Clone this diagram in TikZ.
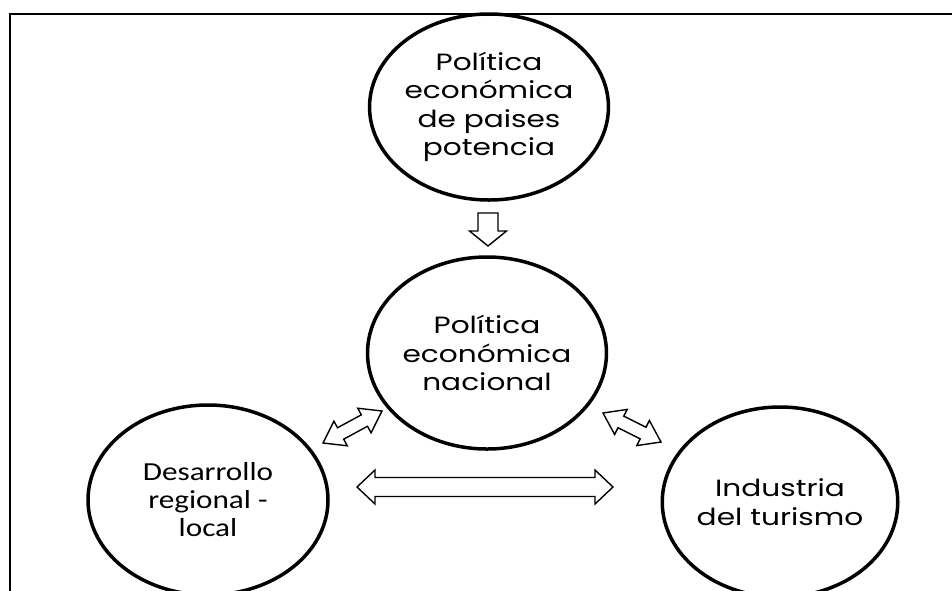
\documentclass[tikz,border=0pt]{standalone}
\usepackage{fontspec}
\usetikzlibrary{shapes.geometric,calc}
\newfontfamily\gothic[FakeStretch=1.26]{Poppins}
\newfontfamily\calib[FakeStretch=1.2]{Carlito}
\tikzset{
  bubble/.style={ellipse, draw=black, line width=3.5pt, inner sep=0pt, align=center},
  gtext/.style={font=\gothic\fontsize{23.5}{28.5}\selectfont},
  ctext/.style={font=\calib\fontsize{26}{28}\selectfont},
  blockarrow/.style={draw=black, line width=1.4pt, fill=white, line join=miter},
  frameline/.style={line width=2pt, black}
}
% double block arrow: #1 start, #2 end, #3 shaft half width, #4 head half width, #5 head length
\newcommand\dblblock[5]{%
  \draw[blockarrow]
    (#1) -- ($($(#1)!#5!(#2)$)!#4!-90:(#2)$) -- ($($(#1)!#5!(#2)$)!#3!-90:(#2)$)
    -- ($($(#2)!#5!(#1)$)!#3!90:(#1)$) -- ($($(#2)!#5!(#1)$)!#4!90:(#1)$)
    -- (#2) -- ($($(#2)!#5!(#1)$)!#4!-90:(#1)$) -- ($($(#2)!#5!(#1)$)!#3!-90:(#1)$)
    -- ($($(#1)!#5!(#2)$)!#3!90:(#2)$) -- ($($(#1)!#5!(#2)$)!#4!90:(#2)$) -- cycle;}
\begin{document}
\begin{tikzpicture}[x=1pt,y=-1pt]
\useasboundingbox (0,0) rectangle (952,590);
\fill[white] (0,0) rectangle (952,590);
\draw[frameline] (10,600) -- (10,13.5) -- (960,13.5);

\node[bubble, gtext, minimum width=236pt, minimum height=186pt] (pot) at (489,107)
  {Política\\económica\\de paises\\potencia};
\node[bubble, gtext, minimum width=234pt, minimum height=192pt] (nac) at (487,353)
  {Política\\económica\\nacional};
\node[bubble, ctext, minimum width=240pt, minimum height=190pt] (reg) at (208,500)
  {Desarrollo\\regional -\\local};
\node[bubble, gtext, minimum width=234pt, minimum height=190pt] (tur) at (780,502)
  {Industria\\del turismo};

% down arrow
\coordinate (d1) at (488,213);
\coordinate (d2) at (488,246);
\draw[blockarrow]
  ($(d1)!10pt!90:(d2)$) -- ($($(d2)!15pt!(d1)$)!10pt!-90:(d1)$)
  -- ($($(d2)!15pt!(d1)$)!18.5pt!-90:(d1)$) -- (d2)
  -- ($($(d2)!15pt!(d1)$)!18.5pt!90:(d1)$) -- ($($(d2)!15pt!(d1)$)!10pt!90:(d1)$)
  -- ($(d1)!10pt!-90:(d2)$) -- cycle;

% diagonal arrows
\coordinate (l1) at (323,443);
\coordinate (l2) at (382,411);
\dblblock{l1}{l2}{6.5pt}{14pt}{20pt}
\coordinate (r1) at (603,413);
\coordinate (r2) at (661,442);
\dblblock{r1}{r2}{6.5pt}{14pt}{20pt}

% horizontal arrow
\coordinate (h1) at (357,487);
\coordinate (h2) at (613,487);
\dblblock{h1}{h2}{9.5pt}{17pt}{18pt}
\end{tikzpicture}
\end{document}
